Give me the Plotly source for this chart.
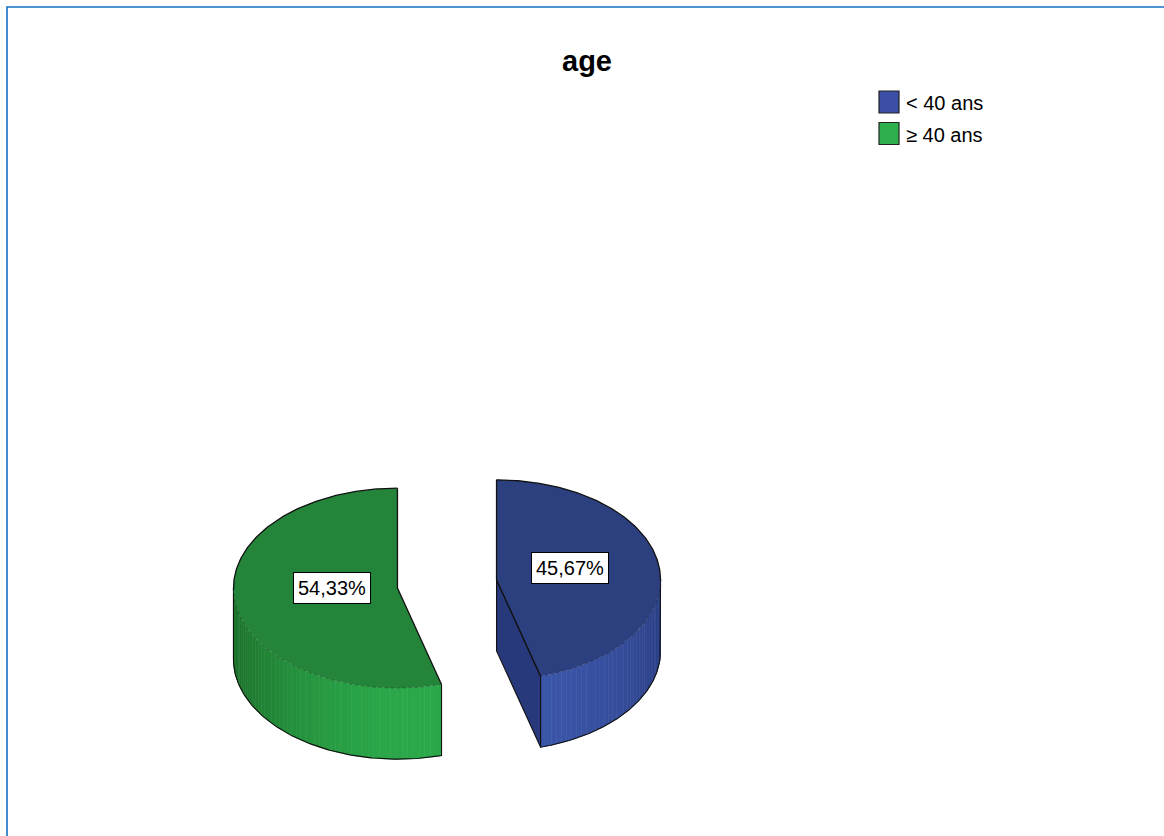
import numpy as np
import plotly.graph_objects as go

# Data
categories = ["< 40 ans", "≥ 40 ans"]
percentages = [45.67, 54.33]

# Styles
top_colors = ["#2C3F7F", "#23843A"]
side_light = ["#3B56A9", "#2BA84A"]
side_dark = ["#293C80", "#1D742D"]
face_colors = ["#27397A", "#1F6F30"]
legend_colors = ["#3B4FA6", "#2DB04C"]
FONT = "Liberation Sans, Arial, sans-serif"

# 3D pie geometry (pixel units, y grows downward)
W, H = 1164, 836
CX, CY = 447, 584
RX, RY = 164, 100
DEPTH = 71
EXPLODE = 50
OUTLINE = "#111111"


def pt(cx, cy, th, z=0.0):
    t = np.radians(th)
    return cx + RX * np.sin(t), cy - RY * np.cos(t) + z


def hexrgb(h):
    h = h.lstrip("#")
    return np.array([int(h[i:i + 2], 16) for i in (0, 2, 4)], float)


def mix(c0, c1, f):
    c = hexrgb(c0) * (1 - f) + hexrgb(c1) * f
    return "rgb(%d,%d,%d)" % tuple(np.round(c).astype(int))


def poly(fig, xs, ys, fill, line_color=None, line_width=0.0):
    fig.add_trace(go.Scatter(
        x=list(xs) + [xs[0]], y=list(ys) + [ys[0]], mode="lines",
        fill="toself", fillcolor=fill,
        line=dict(color=line_color or fill, width=line_width),
        hoverinfo="skip", showlegend=False))


def line(fig, xs, ys, color=OUTLINE, width=1.1, dash="solid"):
    fig.add_trace(go.Scatter(
        x=xs, y=ys, mode="lines", line=dict(color=color, width=width, dash=dash),
        hoverinfo="skip", showlegend=False, connectgaps=False))


fig = go.Figure()

start = 0.0
labels = []
for i, (cat, val) in enumerate(zip(categories, percentages)):
    a0, a1 = start, start + 360.0 * val / 100.0
    start = a1
    mid = (a0 + a1) / 2
    m = np.radians(mid)
    cx = CX + EXPLODE * np.sin(m)
    cy = CY - EXPLODE * RY / RX * np.cos(m)

    # radial cut faces turned toward the viewer
    for edge, normal in ((a1, a1 + 90), (a0, a0 - 90)):
        if np.cos(np.radians(normal)) < -1e-6:
            ex, ey = pt(cx, cy, edge)
            xs = [cx, ex, ex, cx]
            ys = [cy, ey, ey + DEPTH, cy + DEPTH]
            poly(fig, xs, ys, face_colors[i], OUTLINE, 1.1)

    # outer wall, shaded in thin strips
    s0, s1 = max(a0, 90.0), min(a1, 270.0)
    if s1 > s0:
        n = int((s1 - s0) / 2.0) + 1
        ts = np.linspace(s0, s1, n + 1)
        for k in range(n):
            th = np.linspace(ts[k], ts[k + 1], 4)
            tx, ty = pt(cx, cy, th)
            bx, by = pt(cx, cy, th[::-1], DEPTH)
            tm = (ts[k] + ts[k + 1]) / 2
            f = max(0.0, np.cos(np.radians(tm - 172))) ** 1.6
            col = mix(side_dark[i], side_light[i], f)
            poly(fig, np.r_[tx, bx], np.r_[ty, by], col, col, 0.6)
        th = np.linspace(s0, s1, 120)
        bx, by = pt(cx, cy, th, DEPTH)
        x0, y0 = pt(cx, cy, s0)
        x1, y1 = pt(cx, cy, s1)
        line(fig, np.r_[x0, bx, x1], np.r_[y0, by, y1])

    # top face
    th = np.linspace(a0, a1, 240)
    ax, ay = pt(cx, cy, th)
    poly(fig, np.r_[cx, ax], np.r_[cy, ay], top_colors[i])
    back = np.cos(np.radians(th)) >= -0.02
    bx = np.where(back, ax, np.nan)
    by = np.where(back, ay, np.nan)
    line(fig, bx, by, width=1.3)
    fx = np.where(~back, ax, np.nan)
    fy = np.where(~back, ay, np.nan)
    line(fig, fx, fy, color="rgba(0,0,0,0.3)", width=1, dash="dot")
    e0 = pt(cx, cy, a0)
    e1 = pt(cx, cy, a1)
    line(fig, [e0[0], cx, e1[0]], [e0[1], cy, e1[1]], width=1.3)

    # value label inside the top face
    lx = cx + 0.43 * RX * np.sin(m) + 4
    ly = cy - 0.43 * RY * np.cos(m) - 6
    labels.append(dict(
        x=lx, y=ly, xref="x", yref="y", showarrow=False,
        text=("%.2f" % val).replace(".", ",") + "%",
        font=dict(family=FONT, size=20, color="black"),
        bgcolor="white", bordercolor="black", borderwidth=1, borderpad=4))

# legend
shapes = []
for i, cat in enumerate(categories):
    y0 = 91 + 31.5 * i
    shapes.append(dict(type="rect", xref="x", yref="y", x0=879, x1=899,
                       y0=y0, y1=y0 + 22, fillcolor=legend_colors[i],
                       line=dict(color="#222222", width=1.2)))
    labels.append(dict(x=904, y=y0 + 12, xref="x", yref="y", showarrow=False,
                       xanchor="left", yanchor="middle", text=cat,
                       font=dict(family=FONT, size=20, color="black")))

# frame
shapes.append(dict(type="path", xref="x", yref="y",
                   path="M 7,836 L 7,7 L 1164,7",
                   line=dict(color="#1570C6", width=1.6)))

labels.append(dict(x=587, y=61, xref="x", yref="y", showarrow=False,
                   text="<b>age</b>",
                   font=dict(family=FONT, size=29, color="black")))

fig.update_layout(
    width=W, height=H, autosize=False,
    margin=dict(l=0, r=0, t=0, b=0),
    paper_bgcolor="white", plot_bgcolor="white",
    xaxis=dict(range=[0, W], visible=False, fixedrange=True),
    yaxis=dict(range=[H, 0], visible=False, fixedrange=True),
    annotations=labels, shapes=shapes, showlegend=False)

fig.write_html("out.html")
